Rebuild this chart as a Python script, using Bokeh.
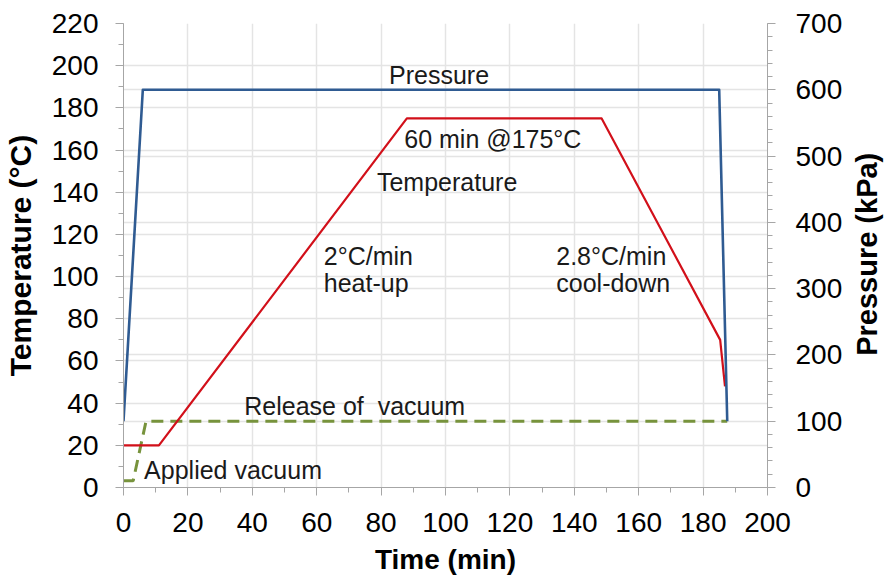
import math
from bokeh.plotting import figure
from bokeh.layouts import row
from bokeh.models import Range1d, LinearAxis, FixedTicker, Grid, Label
from bokeh.embed import file_html
from bokeh.resources import INLINE

# ---- data ----
temp_time = [0, 11, 88, 148.5, 185.3, 186.8]
temp_vals = [20, 20, 175, 175, 70, 48]

pres_time = [0, 6, 185, 187.5]
pres_vals = [100, 600, 600, 100]

vac_time = [0, 3, 7, 187.5]
vac_vals = [10, 10, 100, 100]

x_ticks = list(range(0, 201, 20))
x_minor = list(range(0, 201, 10))
t_ticks = list(range(0, 221, 20))
t_minor = list(range(0, 221, 10))
p_ticks = list(range(0, 701, 100))
p_minor = list(range(0, 701, 20))

x_title = "Time (min)"
y_title = "Temperature (\u00b0C)"
y2_title = "Pressure (kPa)"

# annotations: (text, x, y, align)
notes = [
    ("Pressure", 98.0, 191.3, "center"),
    ("60 min @175\u00b0C", 114.7, 161.0, "center"),
    ("Temperature", 100.5, 140.5, "center"),
    ("2\u00b0C/min", 62.2, 105.3, "left"),
    ("heat-up", 62.2, 92.5, "left"),
    ("2.8\u00b0C/min", 134.4, 105.3, "left"),
    ("cool-down", 134.4, 92.5, "left"),
    ("Release of\u00a0 vacuum", 37.5, 34.5, "left"),
    ("Applied vacuum", 6.4, 3.8, "left"),
]

FONT = "Liberation Sans"
AXC = "#a6a6a6"
GRIDC = "#e4e4e4"

p = figure(width=845, height=577, output_backend="svg", toolbar_location=None,
           x_range=Range1d(0, 200), y_range=Range1d(0, 220),
           min_border_left=122, min_border_right=77, min_border_top=23,
           min_border_bottom=88)
p.extra_y_ranges = {"kpa": Range1d(0, 700)}
p.outline_line_color = None
p.background_fill_color = "white"
p.border_fill_color = "white"

def style_axis(ax, ticks, minor, standoff, title, title_standoff, title_size):
    ax.ticker = FixedTicker(ticks=ticks, minor_ticks=minor)
    ax.axis_line_color = AXC
    ax.major_tick_line_color = AXC
    ax.minor_tick_line_color = AXC
    ax.major_tick_out = 8
    ax.major_tick_in = 0
    ax.minor_tick_out = 5
    ax.minor_tick_in = 0
    ax.major_label_text_font = FONT
    ax.major_label_text_font_size = "28px"
    ax.major_label_text_color = "black"
    ax.major_label_standoff = standoff
    if title:
        ax.axis_label = title
        ax.axis_label_standoff = title_standoff
        ax.axis_label_text_font = FONT
        ax.axis_label_text_font_size = title_size
        ax.axis_label_text_font_style = "bold"
        ax.axis_label_text_color = "black"

style_axis(p.xaxis[0], x_ticks, x_minor, 17, x_title, 9, "28px")
style_axis(p.yaxis[0], t_ticks, t_minor, 17, y_title, 12, "30px")
ra = LinearAxis(y_range_name="kpa")
style_axis(ra, p_ticks, p_minor, 20, None, 0, None)
p.add_layout(ra, "right")

p.xgrid.ticker = FixedTicker(ticks=x_ticks)
p.ygrid.ticker = FixedTicker(ticks=t_ticks)
for g in (p.xgrid[0], p.ygrid[0]):
    g.grid_line_color = GRIDC
    g.grid_line_width = 1.5
g2 = Grid(dimension=1, ticker=FixedTicker(ticks=p_ticks), y_range_name="kpa",
          grid_line_color=GRIDC, grid_line_width=1.5)
p.add_layout(g2)

p.line(vac_time, vac_vals, y_range_name="kpa", line_color="#77933C",
       line_width=3, line_dash="12 7")
p.line(temp_time, temp_vals, line_color="#D2101A", line_width=2.2,
       line_join="round")
p.line(pres_time, pres_vals, y_range_name="kpa", line_color="#2F5B92",
       line_width=2.6, line_join="round")

for txt, x, y, al in notes:
    p.add_layout(Label(x=x, y=y, text=txt, text_align=al, y_offset=9,
                       text_baseline="alphabetic", text_font=FONT,
                       text_font_size="25px", text_color="#1a1a1a"))

# narrow strip on the right that carries the rotated right-axis title
p2 = figure(width=40, height=577, output_backend="svg", toolbar_location=None,
            x_range=Range1d(0, 40), y_range=Range1d(577, 0), min_border=0,
            x_axis_location=None, y_axis_location=None)
p2.outline_line_color = None
p2.grid.visible = False
p2.background_fill_color = "white"
p2.border_fill_color = "white"
p2.add_layout(Label(x=21, y=287, text=y2_title, angle=math.pi / 2,
                    text_align="center", text_baseline="alphabetic",
                    text_font=FONT, text_font_size="29px",
                    text_font_style="bold", text_color="black"))

layout = row(p, p2)
open("out.html", "w").write(file_html(layout, INLINE))
